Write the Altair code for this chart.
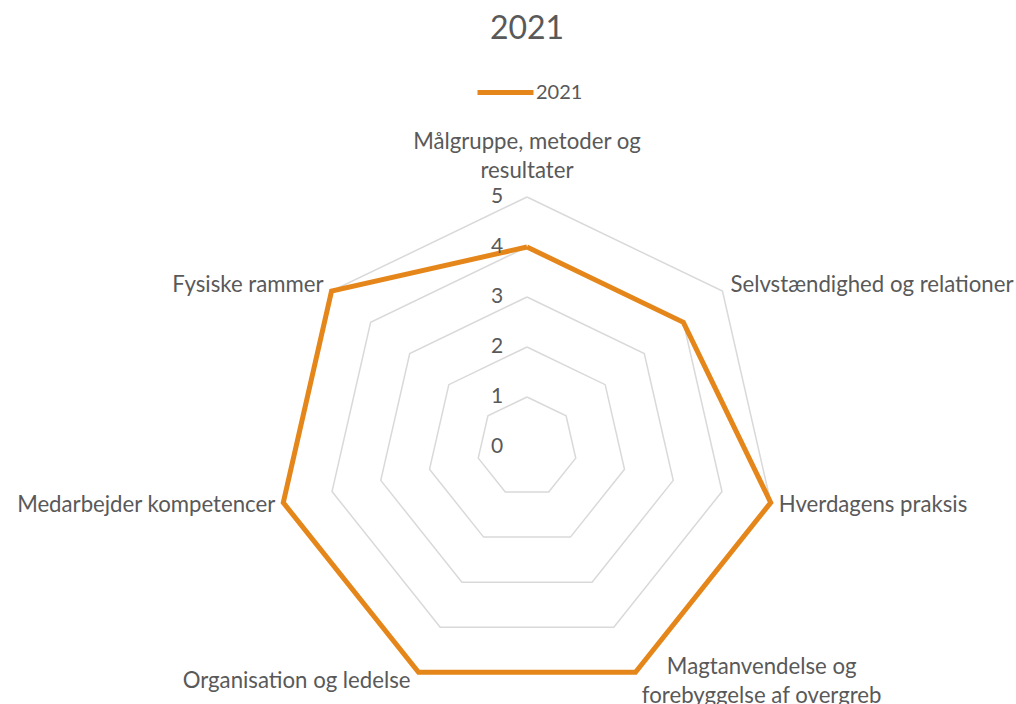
import altair as alt
import pandas as pd

# ---- data ----
title_text = "2021"
series_name = "2021"
categories = [
    "Målgruppe, metoder og\nresultater",
    "Selvstændighed og relationer",
    "Hverdagens praksis",
    "Magtanvendelse og\nforebyggelse af overgreb",
    "Organisation og ledelse",
    "Medarbejder kompetencer",
    "Fysiske rammer",
]
values = [4, 4, 5, 5, 5, 5, 5]
grid_levels = [1, 2, 3, 4, 5]
tick_values = [0, 1, 2, 3, 4, 5]
axis_max = 5

n = len(categories)
ORANGE = "#E5861A"
GRID = "#D9D9D9"
TEXT = "#595959"
FONT = "Lato"
LABEL_SIZE = 22.2
LINE_H = 29          # px between label lines
UNIT = 50            # px per data unit (from the scales below)
CHAR_W = 9.85        # approx px per character of the label font (for centring multi-line blocks)

# ---- tables built from the arrays ----
series_df = pd.DataFrame({
    "order": list(range(n + 1)),
    "idx": [i % n for i in range(n + 1)],
    "value": [values[i % n] for i in range(n + 1)],
    "series": series_name,
})
grid_df = pd.DataFrame([
    {"level": lv, "order": k, "idx": k % n} for lv in grid_levels for k in range(n + 1)
])
tick_df = pd.DataFrame({"tick": tick_values, "label": [str(t) for t in tick_values]})
label_df = pd.DataFrame({
    "idx": list(range(n)),
    "label": categories,
    "nlines": [len(c.split("\n")) for c in categories],
    "maxlen": [max(len(s) for s in c.split("\n")) for c in categories],
})

xscale = alt.Scale(domain=[-10.54, 9.78], nice=False, zero=False)
yscale = alt.Scale(domain=[-5.14, 7.74], nice=False, zero=False)

ang = f"datum.idx * 2 * PI / {n}"

grid = alt.Chart(grid_df).transform_calculate(
    a=ang
).transform_calculate(
    px="datum.level * sin(datum.a)", py="datum.level * cos(datum.a)"
).mark_line(stroke=GRID, strokeWidth=1.5, strokeJoin="miter").encode(
    x=alt.X("px:Q", scale=xscale, axis=None),
    y=alt.Y("py:Q", scale=yscale, axis=None),
    detail="level:N",
    order="order:Q",
)

line = alt.Chart(series_df).transform_calculate(
    a=ang
).transform_calculate(
    px="datum.value * sin(datum.a)", py="datum.value * cos(datum.a)"
).mark_line(strokeWidth=5, strokeJoin="miter").encode(
    x=alt.X("px:Q", scale=xscale, axis=None),
    y=alt.Y("py:Q", scale=yscale, axis=None),
    order="order:Q",
    color=alt.Color(
        "series:N",
        scale=alt.Scale(domain=[series_name], range=[ORANGE]),
        legend=alt.Legend(
            orient="none", legendX=475, legendY=2, title=None,
            symbolType="stroke", symbolSize=3136, symbolStrokeWidth=5,
            labelFont=FONT, labelFontSize=20, labelColor=TEXT,
            labelOffset=0, padding=0,
        ),
    ),
)

ticks = alt.Chart(tick_df).transform_calculate(zero="0").mark_text(
    font=FONT, fontSize=21, color=TEXT, align="center", baseline="middle", dx=-30
).encode(
    x=alt.X("zero:Q", scale=xscale, axis=None),
    y=alt.Y("tick:Q", scale=yscale, axis=None),
    text="label:N",
)

base_lab = alt.Chart(label_df).transform_calculate(
    a=ang
).transform_calculate(
    sx="sin(datum.a)", cy="cos(datum.a)"
).transform_calculate(
    sg="datum.sx > 0.1 ? 1 : (datum.sx < -0.1 ? -1 : 0)",
    # vertical centre of the label block (data units)
    yc=f"datum.cy > 0.9 ? {axis_max} + 0.24 + datum.nlines * {LINE_H / UNIT / 2} : {axis_max} * datum.cy + 0.2 * datum.cy",
).transform_calculate(
    # Vega anchors the first line; shift it up by half the extra lines
    ly=f"datum.yc + (datum.nlines - 1) * {LINE_H / UNIT / 2}",
    lx_edge=f"{axis_max} * datum.sx + datum.sg * 0.16",
    lx_center=f"{axis_max} * datum.sx + datum.sg * (0.16 + datum.maxlen * {CHAR_W} / {2 * UNIT})",
)

def lab_layer(filt, xfield, align):
    return base_lab.transform_filter(filt).mark_text(
        font=FONT, fontSize=LABEL_SIZE, color=TEXT, align=align, baseline="middle",
        lineBreak="\n", lineHeight=LINE_H,
    ).encode(
        x=alt.X(f"{xfield}:Q", scale=xscale, axis=None),
        y=alt.Y("ly:Q", scale=yscale, axis=None),
        text="label:N",
    )

lab_left = lab_layer("datum.sg == 1 && datum.nlines == 1", "lx_edge", "left")
lab_right = lab_layer("datum.sg == -1 && datum.nlines == 1", "lx_edge", "right")
lab_center = lab_layer("datum.sg == 0 || datum.nlines > 1", "lx_center", "center")

chart = alt.layer(grid, line, ticks, lab_left, lab_right, lab_center).properties(
    width=1016, height=644,
    autosize=alt.AutoSizeParams(type="none"),
    padding={"top": 60, "left": 0, "right": 0, "bottom": 0},
    title=alt.TitleParams(
        title_text, font=FONT, fontSize=32, color=TEXT, fontWeight="normal",
        anchor="middle", dx=19, offset=14,
    ),
).configure(background="white").configure_view(strokeWidth=0)

chart.save("out.html", embed_options={"renderer": "svg", "actions": False})
